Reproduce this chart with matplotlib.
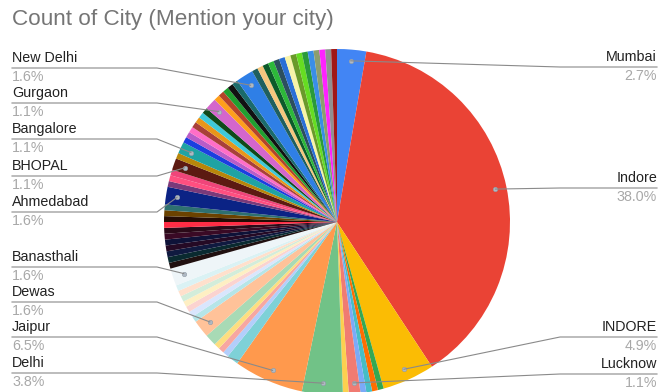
import numpy as np
import matplotlib.pyplot as plt
from matplotlib.lines import Line2D

plt.rcParams['font.family'] = ['Liberation Sans', 'DejaVu Sans']

# slices in drawing order (clockwise from 12 o'clock), '' = unlabeled city
cities = ['Mumbai', 'Indore', 'INDORE', '', '', '', '', 'Lucknow', '', 'Delhi', 'Jaipur',
          '', '', '', '', '', 'Dewas', '', '', '', '', '', '', '', 'Banasthali',
          '', '', '', '', '', '', '', '', '', '', '',
          'Ahmedabad', '', '', '', 'BHOPAL', '', 'Bangalore',
          '', '', '', '', '', '', '', 'Gurgaon', '', '', '', '', '', 'New Delhi',
          '', '', '', '', '', '', '', '', '', '', '', '', '', '', '']
counts = [5, 70, 9, 1, 1, 1, 1, 2, 1, 7, 12,
          2, 1, 1, 1, 2, 3, 1, 1, 1, 1, 1, 1, 1, 3,
          1, 1, 1, 1, 1, 1, 1, 1, 1, 1, 1,
          3, 1, 1, 1, 2, 1, 2,
          1, 1, 1, 1, 1, 1, 1, 2, 1, 1, 1, 1, 1, 3,
          1, 1, 1, 1, 1, 1, 1, 1, 1, 1, 1, 1, 1, 1, 1]
colors = ['#4285F4', '#EA4335', '#FBBC04', '#34A853', '#FF6D01', '#46BDC6', '#7BAAF7',
          '#F07B72', '#FCD04F', '#71C287', '#FF994D',
          '#7ED1D7', '#B3CEFB', '#F7A7A1', '#FDDE80', '#A8DAB5', '#FFC299', '#B5E5E8',
          '#D9E6FD', '#FBD3D0', '#FEEFC3', '#D3EDDA', '#FFE0CC', '#DAF2F4', '#EEF5F8',
          '#201010', '#0A2A30', '#101A40', '#250A25', '#0E1238', '#3A0A25', '#2A0A18',
          '#FF2D45', '#250C04', '#6B4200', '#2E7070',
          '#0B2385', '#7A3A7A', '#FF4F80', '#F0457A', '#5C1A12', '#B8860B', '#1FA3A3',
          '#1B3FE0', '#B85CC8', '#FF6EC7', '#A8403A', '#E8961A', '#3FC9D9', '#0F4A1A',
          '#D466CC', '#FF9F1C', '#B5442A', '#20A030', '#111111', '#1B6B6B', '#2F7FE6',
          '#1F5F5F', '#F5C77E', '#0D5A2A', '#2DB83A', '#2C4F5E', '#2A6FD6', '#F7F3A8',
          '#6A9A2A', '#66DD22', '#2A9A3A', '#3A8EE6', '#8C9E6E', '#FF22FF', '#909090',
          '#A01818']

# label placement (pixel y of the city name)
label_left = {'New Delhi': 58, 'Gurgaon': 93, 'Bangalore': 129, 'BHOPAL': 166,
              'Ahmedabad': 202, 'Banasthali': 257, 'Dewas': 292, 'Jaipur': 327,
              'Delhi': 363}
label_right = {'Mumbai': 57, 'Indore': 178, 'INDORE': 327, 'Lucknow': 364}

W, H = 660, 392
fig = plt.figure(figsize=(W / 100, H / 100), dpi=100)


def px(x, y):
    return x / W, 1 - y / H


# pie axes: centre (337, 222), radius 173 px
cx, cy, r = 337, 222, 173
ax = fig.add_axes([(cx - r) / W, (H - cy - r) / H, 2 * r / W, 2 * r / H])
wedges, _ = ax.pie(counts, colors=colors, startangle=90, counterclock=False,
                   radius=1, wedgeprops=dict(linewidth=0))
ax.set_xlim(-1, 1)
ax.set_ylim(-1, 1)
ax.axis('off')
for w in wedges:
    w.set_clip_on(False)

fig.text(*px(12, 20), 'Count of City (Mention your city)', fontsize=16.2,
         color='#757575', va='center', ha='left')

total = sum(counts)
inv = fig.transFigure.inverted()
for w, name, c in zip(wedges, cities, counts):
    if not name:
        continue
    mid = np.deg2rad((w.theta1 + w.theta2) / 2)
    dx, dy = 0.935 * np.cos(mid), 0.935 * np.sin(mid)
    ax.plot(dx, dy, 'o', ms=3.2, color='#b0bac4', mec='#8f9aa6', mew=0.4,
            zorder=5, clip_on=False)
    fx, fy = inv.transform(ax.transData.transform((dx, dy)))
    pct = f'{100 * c / total:.1f}%'
    if name in label_left:
        y = label_left[name]
        fig.text(*px(12, y), name, fontsize=10.3, color='#222222', va='center', ha='left')
        fig.text(*px(12, y + 19), pct, fontsize=10.3, color='#a8a8a8', va='center', ha='left')
        xs = [px(12, 0)[0], px(157, 0)[0], fx]
        ys = [px(0, y + 10)[1], px(0, y + 10)[1], fy]
    else:
        y = label_right[name]
        fig.text(*px(657, y), name, fontsize=10.3, color='#222222', va='center', ha='right')
        fig.text(*px(657, y + 19), pct, fontsize=10.3, color='#a8a8a8', va='center', ha='right')
        xs = [px(657, 0)[0], px(560, 0)[0], fx]
        ys = [px(0, y + 10)[1], px(0, y + 10)[1], fy]
    fig.add_artist(Line2D(xs, ys, color='#8a8a8a', lw=0.8, zorder=4))

fig.savefig('out.png', dpi=100)
